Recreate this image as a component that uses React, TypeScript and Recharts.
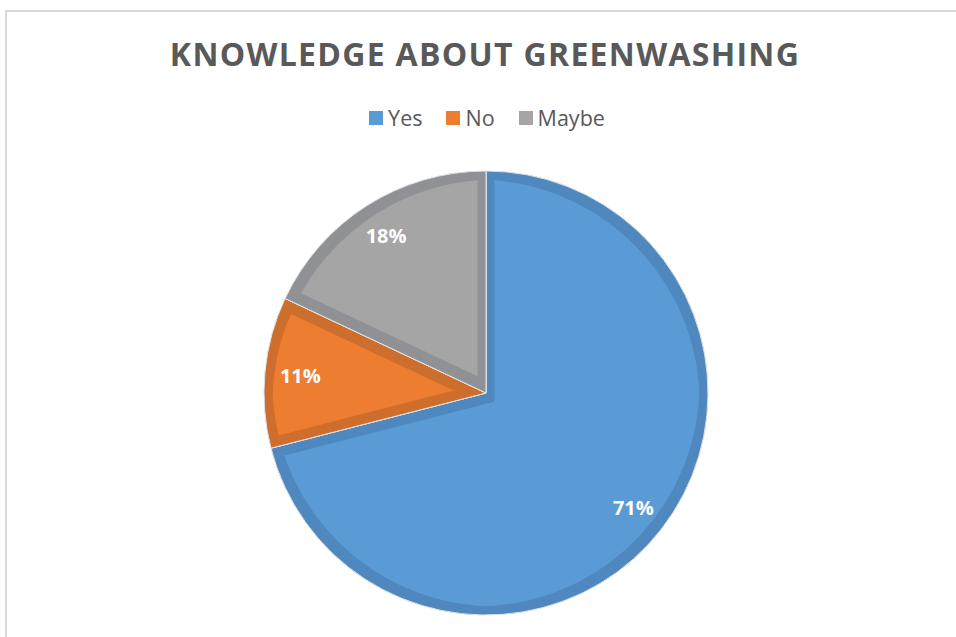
import React from 'react'
import { PieChart, Pie, Cell, Legend } from 'recharts'

const categories = ['Yes', 'No', 'Maybe']
const shares = [71, 11, 18]
const colors = ['#5B9BD5', '#ED7D31', '#A5A5A5']

const data = categories.map((name, i) => ({ name, value: shares[i] }))

const RADIAN = Math.PI / 180
const textColor = '#595959'
const font = '"Open Sans", "Noto Sans", sans-serif'

const renderLabel = (props: any) => {
  const { cx, cy, midAngle, outerRadius, value } = props
  const r = outerRadius * 0.84
  const x = cx + r * Math.cos(-midAngle * RADIAN)
  const y = cy + r * Math.sin(-midAngle * RADIAN)
  return (
    <text x={x} y={y} fill="#fff" textAnchor="middle" dominantBaseline="central"
      fontFamily={font} fontWeight={700} fontSize={20}>
      {`${value}%`}
    </text>
  )
}

const renderLegend = (props: any) => {
  // keep the legend in data order, not sorted
  const payload = [...(props.payload || [])].sort(
    (a: any, b: any) => categories.indexOf(a.value) - categories.indexOf(b.value))
  return (
    <div style={{ display: 'flex', justifyContent: 'center', gap: 24, fontFamily: font, fontSize: 21.5, color: textColor, height: 24 }}>
      {payload.map((item: any) => (
        <div key={item.value} style={{ display: 'flex', alignItems: 'center' }}>
          <span style={{ width: 14, height: 14, background: item.color, display: 'inline-block', marginRight: 5 }} />
          <span style={{ lineHeight: '24px' }}>{item.value}</span>
        </div>
      ))}
    </div>
  )
}

export default function App() {
  return (
    <div style={{ position: 'absolute', left: 0, top: 0, width: 956, height: 637, overflow: 'hidden', background: '#fff' }}>
      <div style={{ position: 'absolute', left: 5, top: 10, width: 1000, height: 700, border: '2px solid #d9d9d9' }} />
      <svg width={0} height={0} style={{ position: 'absolute' }}>
        <defs>
          <filter id="innerEdge" x="-5%" y="-5%" width="110%" height="110%" colorInterpolationFilters="sRGB">
            <feMorphology in="SourceAlpha" operator="erode" radius="9" result="inner" />
            <feComponentTransfer in="SourceGraphic" result="dark">
              <feFuncR type="linear" slope="0.87" />
              <feFuncG type="linear" slope="0.88" />
              <feFuncB type="linear" slope="0.9" />
            </feComponentTransfer>
            <feComposite in="dark" in2="inner" operator="out" result="ring" />
            <feMerge>
              <feMergeNode in="SourceGraphic" />
              <feMergeNode in="ring" />
            </feMerge>
          </filter>
        </defs>
      </svg>
      <div style={{ position: 'absolute', left: 0, top: 0 }}>
        <PieChart width={956} height={637} margin={{ top: 0, right: 0, bottom: 0, left: 0 }}>
          <text x={485} y={66} textAnchor="middle" fill={textColor} fontFamily={font}
            fontWeight={700} fontSize={32} letterSpacing={1.3}>
            KNOWLEDGE ABOUT GREENWASHING
          </text>
          <Legend verticalAlign="top" content={renderLegend}
            wrapperStyle={{ top: 106, left: 9, width: 956 }} />
          {/* legend takes 24px off the top of the plot area, so cy is shifted back */}
          <Pie data={data} dataKey="value" nameKey="name" cx={486} cy={369} outerRadius={222}
            startAngle={90} endAngle={-270} stroke="#fff" strokeWidth={1}
            label={renderLabel} labelLine={false} isAnimationActive={false}>
            {data.map((entry, i) => (
              <Cell key={entry.name} fill={colors[i]} filter="url(#innerEdge)" />
            ))}
          </Pie>
        </PieChart>
      </div>
    </div>
  )
}
